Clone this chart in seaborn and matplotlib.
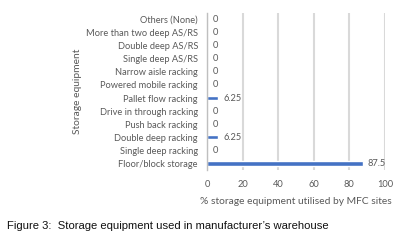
import matplotlib.pyplot as plt
import seaborn as sns
import pandas as pd

categories = ["Others (None)", "More than two deep AS/RS", "Double deep AS/RS",
              "Single deep AS/RS", "Narrow aisle racking", "Powered mobile racking",
              "Pallet flow racking", "Drive in through racking", "Push back racking",
              "Double deep racking", "Single deep racking", "Floor/block storage"]
values = [0, 0, 0, 0, 0, 0, 6.25, 0, 0, 6.25, 0, 87.5]
value_labels = ["0", "0", "0", "0", "0", "0", "6.25", "0", "0", "6.25", "0", "87.5"]
xticks = [0, 20, 40, 60, 80, 100]

df = pd.DataFrame({"equipment": categories, "pct": values})

sns.set_theme(style="white")
plt.rcParams['font.family'] = ['Lato', 'DejaVu Sans']
grey = '#595959'

fig = plt.figure(figsize=(4.09, 2.44), dpi=100)
ax = fig.add_axes([0.506, 0.303, 0.435, 0.644])
sns.barplot(data=df, x="pct", y="equipment", color="#4472C4", width=0.33,
            saturation=1, ax=ax)
ax.set_xlim(0, 100)
ax.set_xticks(xticks)
ax.grid(axis='x', color='#D9D9D9', linewidth=1.5)
ax.set_axisbelow(True)
for s in ['top', 'right', 'bottom']:
    ax.spines[s].set_visible(False)
ax.spines['left'].set_color('#BFBFBF')
ax.spines['left'].set_linewidth(1)
ax.tick_params(axis='both', length=0, labelsize=6.7, labelcolor=grey)
ax.tick_params(axis='y', pad=6.5)
ax.tick_params(axis='x', pad=7)
for i, (v, lab) in enumerate(zip(values, value_labels)):
    ax.text(v + 3, i, lab, va='center', ha='left', fontsize=6.7, color=grey)
ax.set_xlabel("% storage equipment utilised by MFC sites", fontsize=7.4, color=grey, labelpad=6)
ax.set_ylabel("Storage equipment", fontsize=7.4, color=grey, labelpad=3)

fig.text(0.017, 0.074, "Figure 3:  Storage equipment used in manufacturer’s warehouse",
         fontsize=8.1, family=['Liberation Sans'], color='#111111', va='center')

fig.savefig("out.png", dpi=100)
